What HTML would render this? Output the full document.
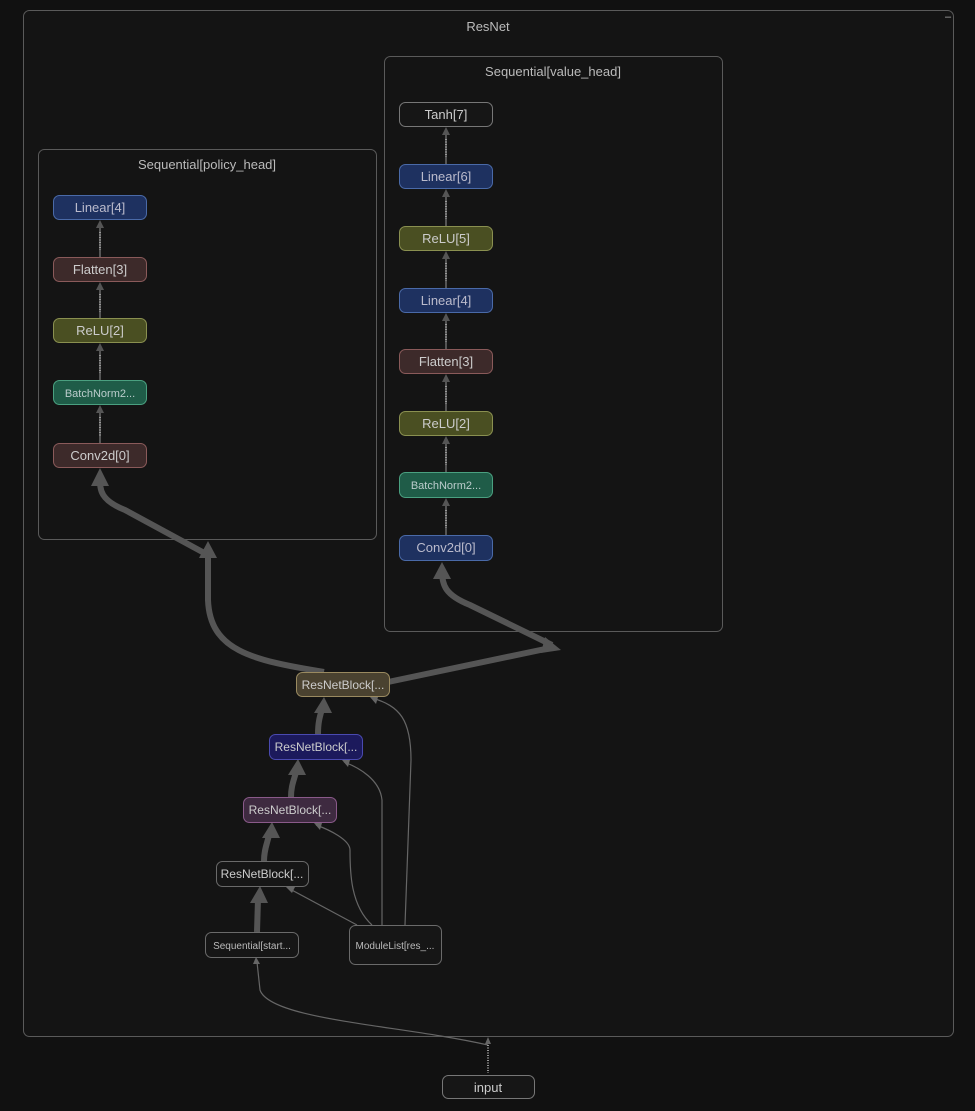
<!DOCTYPE html>
<html><head><meta charset="utf-8"><style>
html,body{margin:0;padding:0;background:#111;}
svg{display:block;font-family:"Liberation Sans",sans-serif;}
</style></head><body>
<svg width="975" height="1111" viewBox="0 0 975 1111" xmlns="http://www.w3.org/2000/svg">
<rect width="975" height="1111" fill="#111"/>
<!-- containers -->
<rect x="23.5" y="10.5" width="930" height="1026" rx="6" fill="#141414" stroke="#5a5a5a"/>
<text x="488" y="31" fill="#bbb" font-size="13" text-anchor="middle">ResNet</text>
<text x="945" y="20" fill="#aaa" font-size="11">–</text>
<rect x="38.5" y="149.5" width="338" height="390" rx="6" fill="#141414" stroke="#5a5a5a"/>
<text x="207" y="169" fill="#bbb" font-size="13" text-anchor="middle">Sequential[policy_head]</text>
<rect x="384.5" y="56.5" width="338" height="575" rx="6" fill="#141414" stroke="#5a5a5a"/>
<text x="553" y="76" fill="#bbb" font-size="13" text-anchor="middle">Sequential[value_head]</text>

<!-- thick edges -->
<g fill="none" stroke="#555" stroke-width="6">
<path d="M324,672 C250,660 210,650 208,600 L208,553"/>
<path d="M208,555 L125,510 C100,500 100,490 100,478"/>
<path d="M388,682 L550,648"/>
<path d="M552,645 L470,605 C445,595 442,585 442,571"/>
<path d="M318,734 C318,722 320,716 322,709"/>
<path d="M291,797 C291,786 294,780 296,772"/>
<path d="M264,861 C264,850 267,844 269,835"/>
<path d="M257,932 L258,899"/>
</g>
<g fill="#555">
<path d="M100,468 L91,486 L109,486 z"/>
<path d="M208,541 L199,558 L217,558 z"/>
<path d="M442,562 L433,579 L451,579 z"/>
<path d="M561,650 L545,637 L541,653 z"/>
<path d="M324,697 L314,713 L332,713 z"/>
<path d="M298,759 L288,775 L306,775 z"/>
<path d="M272,822 L262,838 L280,838 z"/>
<path d="M260,886 L250,903 L268,903 z"/>
</g>
<!-- thin edges -->
<g fill="none" stroke="#666" stroke-width="1.2">
<path d="M488,1045 C400,1025 270,1020 260,990 L257,962"/>
<path d="M357,925 L288,888"/>
<path d="M372,925 C350,905 350,870 350,850 C350,840 330,830 316,825"/>
<path d="M382,925 L382,800 C380,780 360,768 344,762"/>
<path d="M405,925 L411,760 C411,720 400,706 372,698"/>
</g>
<g fill="#666">
<path d="M256,957 L253,964 L260,964 z"/>
<path d="M286,887 L292,893 L295,887 z"/>
<path d="M314,823 L320,830 L322,823 z"/>
<path d="M342,760 L348,767 L350,760 z"/>
<path d="M370,697 L376,704 L378,697 z"/>
<path d="M488,1037 L485,1044 L491,1044 z"/>
</g>
<!-- chain edges -->
<g stroke="#555" stroke-width="2">
<line x1="100" y1="222" x2="100" y2="257"/><line x1="100" y1="284" x2="100" y2="319"/>
<line x1="100" y1="345" x2="100" y2="380"/><line x1="100" y1="407" x2="100" y2="443"/>
<line x1="446" y1="129" x2="446" y2="164"/><line x1="446" y1="191" x2="446" y2="226"/>
<line x1="446" y1="253" x2="446" y2="288"/><line x1="446" y1="315" x2="446" y2="349"/>
<line x1="446" y1="376" x2="446" y2="411"/><line x1="446" y1="438" x2="446" y2="472"/>
<line x1="446" y1="500" x2="446" y2="535"/>
</g>
<g fill="#555">
<path d="M100,220 L96,228 L104,228 z"/><path d="M100,282 L96,290 L104,290 z"/>
<path d="M100,343 L96,351 L104,351 z"/><path d="M100,405 L96,413 L104,413 z"/>
<path d="M446,127 L442,135 L450,135 z"/><path d="M446,189 L442,197 L450,197 z"/>
<path d="M446,251 L442,259 L450,259 z"/><path d="M446,313 L442,321 L450,321 z"/>
<path d="M446,374 L442,382 L450,382 z"/><path d="M446,436 L442,444 L450,444 z"/>
<path d="M446,498 L442,506 L450,506 z"/>
</g>
<g stroke="#999" stroke-width="2" stroke-dasharray="1,1.5">
<line x1="100" y1="232" x2="100" y2="250"/><line x1="100" y1="294" x2="100" y2="312"/>
<line x1="100" y1="355" x2="100" y2="373"/><line x1="100" y1="417" x2="100" y2="436"/>
<line x1="446" y1="139" x2="446" y2="157"/><line x1="446" y1="201" x2="446" y2="219"/>
<line x1="446" y1="263" x2="446" y2="281"/><line x1="446" y1="324" x2="446" y2="342"/>
<line x1="446" y1="386" x2="446" y2="404"/><line x1="446" y1="447" x2="446" y2="465"/>
<line x1="446" y1="510" x2="446" y2="528"/>
<line x1="488" y1="1045" x2="488" y2="1073"/>
</g>
<!-- nodes -->
<g font-size="13" text-anchor="middle">
<rect x="53.5" y="195.5" width="93" height="24" rx="6" fill="#1e3160" stroke="#4a6aa8"/><text x="100" y="212" fill="#bbc">Linear[4]</text>
<rect x="53.5" y="257.5" width="93" height="24" rx="6" fill="#3d2a2a" stroke="#8a5a5a"/><text x="100" y="274" fill="#ccc">Flatten[3]</text>
<rect x="53.5" y="318.5" width="93" height="24" rx="6" fill="#4a4f22" stroke="#8a9050"/><text x="100" y="335" fill="#ccc">ReLU[2]</text>
<rect x="53.5" y="380.5" width="93" height="24" rx="6" fill="#1f5c48" stroke="#4aa080"/><text x="100" y="397" fill="#bcc" font-size="11">BatchNorm2...</text>
<rect x="53.5" y="443.5" width="93" height="24" rx="6" fill="#3d2a2a" stroke="#8a5a5a"/><text x="100" y="460" fill="#ccc">Conv2d[0]</text>

<rect x="399.5" y="102.5" width="93" height="24" rx="6" fill="#161616" stroke="#777"/><text x="446" y="119" fill="#ccc">Tanh[7]</text>
<rect x="399.5" y="164.5" width="93" height="24" rx="6" fill="#1e3160" stroke="#4a6aa8"/><text x="446" y="181" fill="#bbc">Linear[6]</text>
<rect x="399.5" y="226.5" width="93" height="24" rx="6" fill="#4a4f22" stroke="#8a9050"/><text x="446" y="243" fill="#ccc">ReLU[5]</text>
<rect x="399.5" y="288.5" width="93" height="24" rx="6" fill="#1e3160" stroke="#4a6aa8"/><text x="446" y="305" fill="#bbc">Linear[4]</text>
<rect x="399.5" y="349.5" width="93" height="24" rx="6" fill="#3d2a2a" stroke="#8a5a5a"/><text x="446" y="366" fill="#ccc">Flatten[3]</text>
<rect x="399.5" y="411.5" width="93" height="24" rx="6" fill="#4a4f22" stroke="#8a9050"/><text x="446" y="428" fill="#ccc">ReLU[2]</text>
<rect x="399.5" y="472.5" width="93" height="25" rx="6" fill="#1f5c48" stroke="#4aa080"/><text x="446" y="489" fill="#bcc" font-size="11">BatchNorm2...</text>
<rect x="399.5" y="535.5" width="93" height="25" rx="6" fill="#1e3160" stroke="#4a6aa8"/><text x="446" y="552" fill="#bbc">Conv2d[0]</text>

<g font-size="12">
<rect x="296.5" y="672.5" width="93" height="24" rx="6" fill="#4a4230" stroke="#9a8a60"/><text x="343" y="689" fill="#ccc">ResNetBlock[...</text>
<rect x="269.5" y="734.5" width="93" height="25" rx="6" fill="#1c1a5c" stroke="#4a4ab0"/><text x="316" y="751" fill="#ccc">ResNetBlock[...</text>
<rect x="243.5" y="797.5" width="93" height="25" rx="6" fill="#3e2a40" stroke="#8a5a8a"/><text x="290" y="814" fill="#ccc">ResNetBlock[...</text>
<rect x="216.5" y="861.5" width="92" height="25" rx="6" fill="#161616" stroke="#6a6a6a"/><text x="262" y="878" fill="#ccc">ResNetBlock[...</text>
</g>
<rect x="205.5" y="932.5" width="93" height="25" rx="6" fill="#161616" stroke="#6a6a6a"/><text x="252" y="949" fill="#bbb" font-size="10">Sequential[start...</text>
<rect x="349.5" y="925.5" width="92" height="39" rx="6" fill="#161616" stroke="#6a6a6a"/><text x="395" y="949" fill="#bbb" font-size="10">ModuleList[res_...</text>
<rect x="442.5" y="1075.5" width="92" height="23" rx="6" fill="#161616" stroke="#777"/><text x="488" y="1092" fill="#ccc">input</text>
</g>
</svg>
</body></html>
